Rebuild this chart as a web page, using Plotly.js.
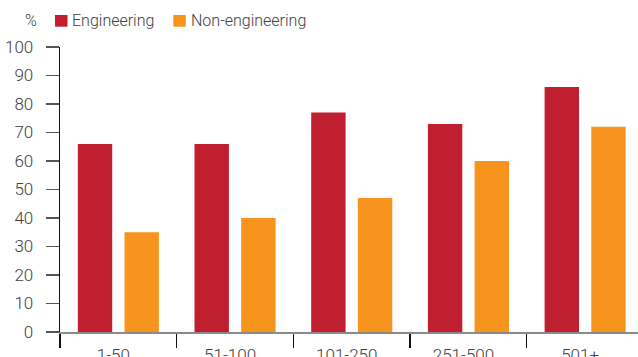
<!DOCTYPE html>
<html>
<head>
<meta charset="utf-8">
<script src="https://cdn.plot.ly/plotly-3.0.1.min.js"></script>
<style>
  html, body { margin: 0; padding: 0; background: #fff; overflow: hidden; }
  #chart { width: 638px; height: 357px; }
</style>
</head>
<body>
<div id="chart"></div>
<script>
// Share of companies by size band (%)
const sizeBands = ["1-50", "51-100", "101-250", "251-500", "501+"];
const engineering = [66, 66, 77, 73, 86];
const nonEngineering = [35, 40, 47, 60, 72];
const seriesNames = ["Engineering", "Non-engineering"];
const seriesColors = ["#C01F30", "#F7941E"];
const yTicks = [0, 10, 20, 30, 40, 50, 60, 70, 80, 90, 100];

const textColor = "#404040";
const fontFamily = "Roboto, 'Noto Sans', sans-serif";
const baseFont = (size) => ({ family: fontFamily, size: size, color: textColor, weight: 300 });

const traces = [
  {
    type: "bar", x: sizeBands, y: engineering, name: seriesNames[0],
    marker: { color: seriesColors[0] }, hoverinfo: "skip"
  },
  {
    type: "bar", x: sizeBands, y: nonEngineering, name: seriesNames[1],
    marker: { color: seriesColors[1] }, hoverinfo: "skip"
  }
];

// Pixel helpers for the hand-built legend (plot area: x 60..638, y 47..332)
const px = v => (v - 60) / 578;
const py = v => (332 - v) / 285;

const layout = {
  width: 638, height: 357,
  margin: { l: 60, r: 0, t: 47, b: 25, pad: 0 },
  paper_bgcolor: "#fff", plot_bgcolor: "#fff",
  font: baseFont(17),
  showlegend: false,
  barmode: "group",
  bargap: 0.2,
  bargroupgap: 0.263,
  xaxis: {
    type: "category",
    range: [-0.5, 4.453],
    tickson: "boundaries",
    ticks: "outside", ticklen: 14, tickwidth: 1.3, tickcolor: "#111",
    ticklabelstandoff: 7,
    ticklabelshift: -5,
    showline: true, linecolor: "#8a8a8a", linewidth: 2,
    showgrid: false, zeroline: false,
    tickfont: baseFont(17),
    fixedrange: true
  },
  yaxis: {
    range: [0, 100],
    tickvals: yTicks,
    ticktext: yTicks.map(String),
    ticks: "outside", ticklen: 13, tickwidth: 1.6, tickcolor: "#555",
    ticklabelstandoff: 9,
    showline: true, linecolor: "#111", linewidth: 1.3,
    showgrid: false, zeroline: false,
    tickfont: baseFont(17),
    fixedrange: true
  },
  shapes: [
    { type: "rect", xref: "paper", yref: "paper",
      x0: px(55), x1: px(67.5), y0: py(26.7), y1: py(15),
      fillcolor: seriesColors[0], line: { width: 0 } },
    { type: "rect", xref: "paper", yref: "paper",
      x0: px(173.3), x1: px(185.8), y0: py(26.7), y1: py(15),
      fillcolor: seriesColors[1], line: { width: 0 } }
  ],
  annotations: [
    { xref: "paper", yref: "paper", x: px(23), y: py(20.8),
      xanchor: "left", yanchor: "middle", text: "%", showarrow: false,
      font: baseFont(16) },
    { xref: "paper", yref: "paper", x: px(70), y: py(20.8),
      xanchor: "left", yanchor: "middle", text: seriesNames[0], showarrow: false,
      font: baseFont(16) },
    { xref: "paper", yref: "paper", x: px(189), y: py(20.8),
      xanchor: "left", yanchor: "middle", text: seriesNames[1], showarrow: false,
      font: baseFont(16) }
  ]
};

Plotly.newPlot("chart", traces, layout, { displayModeBar: false, staticPlot: true });
</script>
</body>
</html>
